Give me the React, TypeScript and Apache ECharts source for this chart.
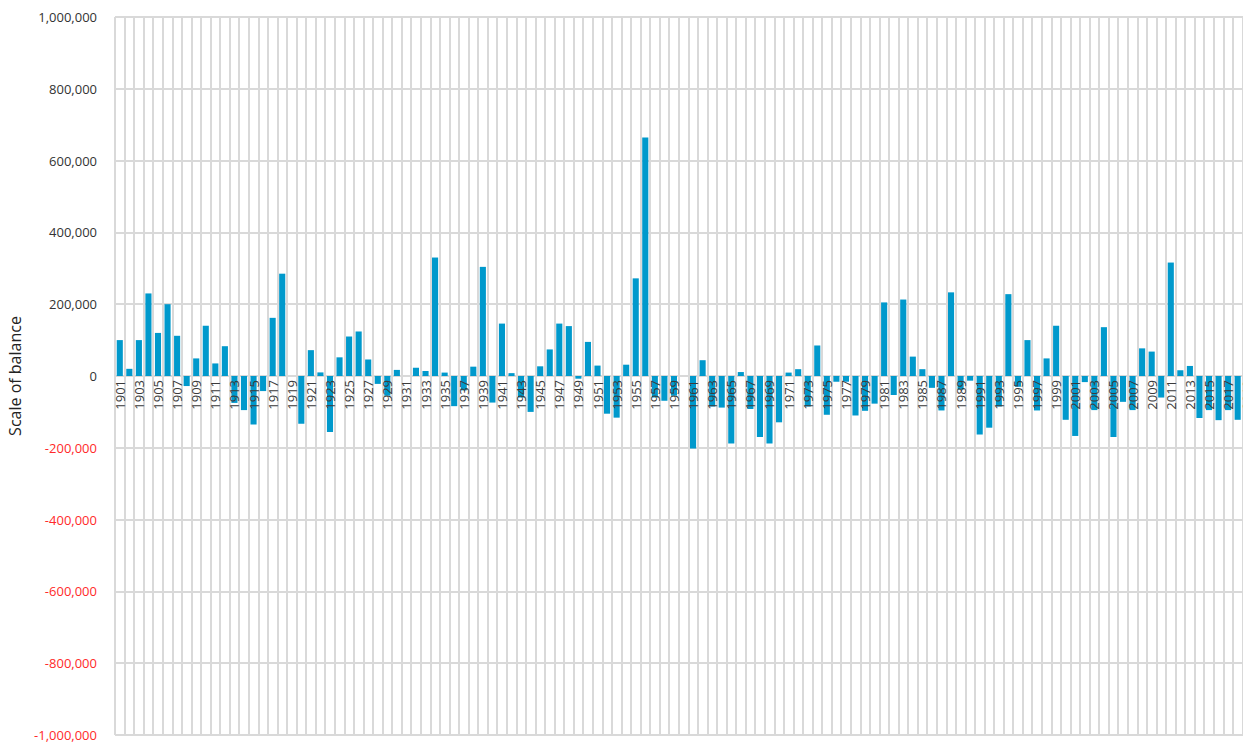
import React, { useEffect, useRef } from "react";
import * as echarts from "echarts";

const FIRST_YEAR = 1901;
const YEAR_COUNT = 119;
const years: string[] = Array.from({ length: YEAR_COUNT }, (_, i) => String(FIRST_YEAR + i));

const values1901s = [100000, 20000, 100000, 230000, 120000, 200000, 112000, -28000, 49000, 140000];
const values1911s = [35000, 83000, -75000, -95000, -135000, -42000, 162000, 285000, 0, -133000];
const values1921s = [72000, 10000, -156000, 52000, 110000, 124000, 46000, -22000, -55000, 17000];
const values1931s = [0, 23000, 14000, 330000, 9500, -84000, -40000, 26000, 304000, -74000];
const values1941s = [146000, 8000, -60000, -100000, 27000, 74000, 146000, 139000, -7500, 95000];
const values1951s = [29000, -105000, -116000, 31500, 272000, 664000, -60000, -69000, -55000, 0];
const values1961s = [-202000, 44000, -85000, -88000, -188000, 11000, -92000, -170000, -188000, -129000];
const values1971s = [9500, 19000, -85000, 85000, -108000, -16000, -16000, -110000, -97000, -77000];
const values1981s = [205000, -53000, 213000, 54000, 19000, -33000, -96000, 233000, -38000, -13000];
const values1991s = [-163000, -144000, -85000, 228000, -30000, 100000, -96000, 49000, 140000, -122000];
const values2001s = [-167000, -17000, -95000, 136000, -170000, -72000, -95000, 77000, 68000, -60000];
const values2011s = [316000, 16000, 28000, -117000, -95000, -123000, -95000, -122000, null];

const balance = [
  ...values1901s, ...values1911s, ...values1921s, ...values1931s, ...values1941s, ...values1951s,
  ...values1961s, ...values1971s, ...values1981s, ...values1991s, ...values2001s, ...values2011s,
];

const Y_MIN = -1000000;
const Y_MAX = 1000000;
const Y_STEP = 200000;
const Y_TITLE = "Scale of balance";

const fmt = (v: number) => {
  const s = Math.abs(v).toString().replace(/\B(?=(\d{3})+(?!\d))/g, ",");
  return v < 0 ? "-" + s : s;
};

const GRID_TOP = 17;
const GRID_HEIGHT = 718;
const GRID_COLOR = "#d9d9d9";

export default function App() {
  const ref = useRef<HTMLDivElement>(null);
  useEffect(() => {
    if (!ref.current) return;
    const chart = echarts.init(ref.current, null, { renderer: "svg" });
    chart.setOption({
      animation: false,
      backgroundColor: "#ffffff",
      grid: {
        left: 115,
        top: GRID_TOP,
        height: GRID_HEIGHT,
        width: 1137,
        containLabel: false,
        outerBoundsMode: "none",
      },
      xAxis: [
        {
          type: "category",
          data: years,
          boundaryGap: true,
          position: "bottom",
          axisLine: { show: false },
          axisTick: { show: false },
          axisLabel: { show: false },
          splitLine: { show: true, interval: 0, lineStyle: { color: GRID_COLOR, width: 2 } },
        },
        {
          type: "category",
          data: years,
          boundaryGap: true,
          position: "bottom",
          offset: -GRID_HEIGHT / 2,
          z: 5,
          axisLine: { show: false },
          axisTick: { show: false },
          axisLabel: {
            interval: 1,
            rotate: 90,
            margin: 4,
            fontFamily: "Open Sans",
            fontSize: 13,
            color: "#3a3a3a",
          },
          splitLine: { show: false },
        },
      ],
      yAxis: {
        type: "value",
        min: Y_MIN,
        max: Y_MAX,
        interval: Y_STEP,
        name: Y_TITLE,
        nameLocation: "middle",
        nameRotate: 90,
        nameGap: 92,
        nameTextStyle: { fontFamily: "Open Sans", fontSize: 16, color: "#222" },
        axisLine: { show: false },
        axisTick: { show: false },
        axisLabel: {
          margin: 18,
          fontFamily: "Open Sans",
          fontSize: 13,
          formatter: (v: number) => fmt(v),
          color: (v: any) => (Number(v) < 0 ? "#ff2a2a" : "#333333"),
        },
        splitLine: { show: true, lineStyle: { color: GRID_COLOR, width: 2 } },
      },
      series: [
        {
          type: "bar",
          xAxisIndex: 0,
          data: balance,
          barCategoryGap: "36%",
          itemStyle: { color: "#0099cc" },
        },
      ],
    });
    return () => chart.dispose();
  }, []);
  return (
    <div
      ref={ref}
      style={{ position: "fixed", left: 0, top: 0, width: 1243, height: 744, overflow: "hidden" }}
    />
  );
}
